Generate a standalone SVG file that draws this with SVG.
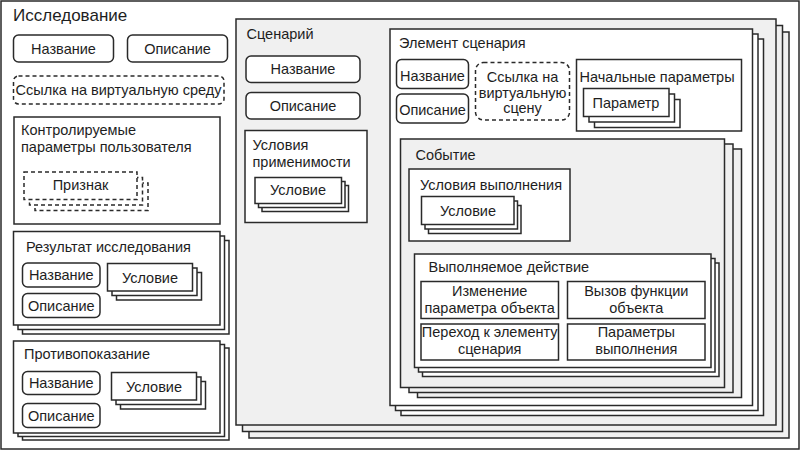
<svg xmlns="http://www.w3.org/2000/svg" width="800" height="450" viewBox="0 0 800 450">
<style>
rect{stroke:#2a2a2a;stroke-width:1.5;fill:#fff}
.g{fill:#f0f0f0}
.d{stroke-dasharray:4 3}
text{font-family:"Liberation Sans",Arial,sans-serif;font-size:14.5px;fill:#1e1e1e}
.c{text-anchor:middle}
.t{font-size:17px}
</style>
<g id="issledovanie">
<rect x="1" y="1" width="798" height="448"/>
<text class="t" x="13" y="21">Исследование</text>
</g>
<g id="nazvanie-1"><rect x="13.5" y="35" width="100" height="27" rx="5"/><text class="c" x="63.5" y="54">Название</text></g>
<g id="opisanie-1"><rect x="127.5" y="35" width="100" height="27" rx="5"/><text class="c" x="177.5" y="54">Описание</text></g>
<g id="ssylka-sreda"><rect class="d" x="13.5" y="76" width="210.5" height="28" rx="5"/><text class="c" x="118.5" y="95">Ссылка на виртуальную среду</text></g>
<g id="kontrol-param">
<rect x="14" y="117" width="206" height="107"/>
<text x="21" y="135">Контролируемые</text>
<text x="21" y="152">параметры пользователя</text>
<g id="priznak">
<rect class="d" x="35" y="183" width="113" height="27.5"/>
<rect class="d" x="29.5" y="177.5" width="113" height="27.5"/>
<rect class="d" x="24" y="172" width="113" height="27.5"/>
<text class="c" x="80.5" y="190">Признак</text>
</g>
</g>
<g id="rezultat">
<rect x="22.5" y="240.5" width="206.5" height="93.5"/>
<rect x="18" y="236" width="206.5" height="93.5"/>
<rect x="13.5" y="231.5" width="206.5" height="93.5"/>
<text x="26" y="252">Результат исследования</text>
<g id="rez-nazvanie"><rect x="22.5" y="263" width="77.5" height="24" rx="5"/><text class="c" x="61.3" y="280">Название</text></g>
<g id="rez-opisanie"><rect x="22.5" y="293.5" width="77.5" height="24" rx="5"/><text class="c" x="61.3" y="310.5">Описание</text></g>
<g id="rez-uslovie">
<rect x="116.5" y="272.5" width="85" height="27.5"/>
<rect x="112" y="268" width="85" height="27.5"/>
<rect x="107.5" y="263.5" width="85" height="27.5"/>
<text class="c" x="150" y="282.5">Условие</text>
</g>
</g>
<g id="protivopokazanie">
<rect x="22.5" y="348" width="206.5" height="92"/>
<rect x="18" y="344.5" width="206.5" height="92"/>
<rect x="13.5" y="341" width="206.5" height="92"/>
<text x="24" y="359">Противопоказание</text>
<g id="pr-nazvanie"><rect x="22.5" y="371.5" width="77.5" height="23" rx="5"/><text class="c" x="61.3" y="388">Название</text></g>
<g id="pr-opisanie"><rect x="22.5" y="403.5" width="77.5" height="24" rx="5"/><text class="c" x="61.3" y="420.5">Описание</text></g>
<g id="pr-uslovie">
<rect x="120.5" y="381.5" width="85" height="27.5"/>
<rect x="116" y="377" width="85" height="27.5"/>
<rect x="111.5" y="372.5" width="85" height="27.5"/>
<text class="c" x="154" y="391.5">Условие</text>
</g>
</g>
<g id="scenariy">
<rect class="g" x="249" y="32" width="540" height="406"/>
<rect class="g" x="242.5" y="25.5" width="540" height="406"/>
<rect class="g" x="236" y="19" width="540" height="406"/>
<text x="246.5" y="38.5">Сценарий</text>
<g id="sc-nazvanie"><rect x="246" y="56" width="114" height="26.5" rx="5"/><text class="c" x="303" y="74">Название</text></g>
<g id="sc-opisanie"><rect x="246" y="92.5" width="114" height="26.5" rx="5"/><text class="c" x="303" y="110.5">Описание</text></g>
<g id="usloviya-primenimosti">
<rect x="245" y="130.5" width="122" height="92"/>
<text x="252.5" y="150">Условия</text>
<text x="252.5" y="166.5">применимости</text>
<g id="sc-uslovie">
<rect x="262" y="185.5" width="86.5" height="26"/>
<rect x="258.5" y="181.5" width="86.5" height="26"/>
<rect x="255" y="177.5" width="86.5" height="26"/>
<text class="c" x="298" y="195">Условие</text>
</g>
</g>
<g id="element-scenariya">
<rect x="401" y="39" width="362.5" height="376.5"/>
<rect x="395.5" y="34" width="362.5" height="376.5"/>
<rect x="390" y="29" width="362.5" height="376.5"/>
<text x="399" y="47.5">Элемент сценария</text>
<g id="el-nazvanie"><rect x="396.5" y="59.5" width="72" height="29" rx="5"/><text class="c" x="432.5" y="80.5">Название</text></g>
<g id="el-opisanie"><rect x="396.5" y="94" width="72" height="29" rx="5"/><text class="c" x="432.5" y="114.5">Описание</text></g>
<g id="ssylka-scena">
<rect class="d" x="475.5" y="62.5" width="94" height="57.5" rx="8"/>
<text class="c" x="522.5" y="81.5">Ссылка на</text>
<text class="c" x="522.5" y="97.5">виртуальную</text>
<text class="c" x="522.5" y="113">сцену</text>
</g>
<g id="nachalnye-parametry">
<rect x="576.5" y="59.5" width="165" height="71.5"/>
<text x="579.5" y="81.5">Начальные параметры</text>
<g id="parametr">
<rect x="594.5" y="99.5" width="85.5" height="28"/>
<rect x="589" y="94" width="85.5" height="28"/>
<rect x="583.5" y="88.5" width="85.5" height="28"/>
<text class="c" x="626" y="107.5">Параметр</text>
</g>
</g>
<g id="sobytie">
<rect class="g" x="417.5" y="149" width="324" height="248.5"/>
<rect class="g" x="409" y="144" width="324" height="248.5"/>
<rect class="g" x="400.5" y="139" width="324" height="248.5"/>
<text x="415.5" y="160">Событие</text>
<g id="usloviya-vypolneniya">
<rect x="409" y="169" width="161" height="72"/>
<text x="420" y="190">Условия выполнения</text>
<g id="sob-uslovie">
<rect x="428.5" y="205.5" width="92.5" height="28"/>
<rect x="425" y="201" width="92.5" height="28"/>
<rect x="421.5" y="196.5" width="92.5" height="28"/>
<text class="c" x="468" y="215.5">Условие</text>
</g>
</g>
<g id="vypolnyaemoe-deystvie">
<rect x="422.5" y="263" width="296.5" height="113.5"/>
<rect x="418.5" y="258.5" width="296.5" height="113.5"/>
<rect x="414.5" y="254" width="296.5" height="113.5"/>
<text x="428.5" y="272">Выполняемое действие</text>
<g id="izmenenie-parametra"><rect x="421" y="281.5" width="137.5" height="37"/><text class="c" x="489.7" y="295.5">Изменение</text><text class="c" x="489.7" y="312.5">параметра объекта</text></g>
<g id="vyzov-funkcii"><rect x="567.5" y="281.5" width="137.5" height="37"/><text class="c" x="636.3" y="295.5">Вызов функции</text><text class="c" x="636.3" y="312.5">объекта</text></g>
<g id="perehod"><rect x="421" y="324" width="137.5" height="36"/><text class="c" x="489.7" y="337">Переход к элементу</text><text class="c" x="489.7" y="353.5">сценария</text></g>
<g id="parametry-vypolneniya"><rect x="567.5" y="324" width="137.5" height="36"/><text class="c" x="636.3" y="337">Параметры</text><text class="c" x="636.3" y="353.5">выполнения</text></g>
</g>
</g>
</g>
</g>
</svg>
